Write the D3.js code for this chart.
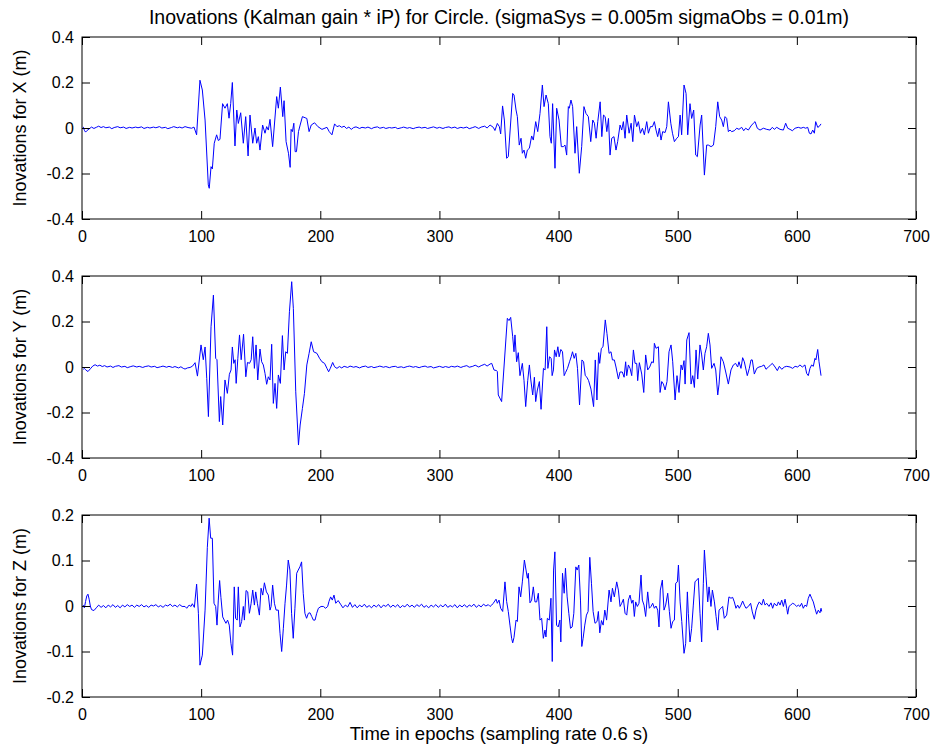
<!DOCTYPE html>
<html lang="en">
<head>
<meta charset="UTF-8">
<script src="https://cdnjs.cloudflare.com/ajax/libs/d3/7.9.0/d3.min.js"></script>
<title>Inovations</title>
<style>
    body { margin: 0; background: #fff; }
    svg { display: block; }
    text { font-family: "Liberation Sans", Arial, Helvetica, sans-serif; fill: #000; }
</style>
</head>
<body>
<div id="chart"></div>
<script>
// [epoch, innovation (m)]
const innovX = [[1,0.005],[2,-0.01],[3,-0.018],[4,-0.012],[6,-0.004],[8,0.004],[10,-0.002],[12,0.003],[14,0.008],[16,0.002],[18,0.006],[20,0.001],[23,0.004],[25,-0.003],[27,0.002],[30,0.006],[32,0.001],[35,0.004],[37,-0.002],[40,0.003],[42,0.0],[45,0.004],[47,0.001],[50,0.005],[52,-0.002],[55,0.003],[57,0.0],[60,0.004],[62,0.001],[65,0.006],[67,0.0],[70,0.003],[72,-0.003],[75,0.002],[77,0.006],[80,0.001],[82,0.004],[84,0.0],
  [86.5,0.006],[89,0.002],[92,-0.001],[94,0.004],[96.2,-0.03],[99,0.21],[101,0.167],[103.3,0.035],[106,-0.25],[106.8,-0.265],[108.3,-0.17],[109.4,-0.18],[111,-0.067],[113,-0.03],[114.4,-0.055],[115.8,-0.05],[118,0.107],[120,0.087],[122,0.107],[123.4,0.043],[124.8,0.107],[126.2,0.2],[128.4,-0.079],[129.9,0.079],[131.2,0.02],[133.2,0.067],[135.4,-0.067],[137.4,0.05],[139.4,-0.123],[141,0.057],[143.3,-0.067],[145.2,0],[146.6,-0.067],[148,-0.038],[149.4,-0.097],[151.6,0.013],[153.6,-0.023],[155,0.006],[156.4,-0.009],[157.8,0.038],[160,-0.082],[163.4,0.138],[164.8,0.087],[166.5,0.18],[168.5,0.05],[169.6,0.12],[171.3,-0.06],[173.3,-0.111],[174.7,-0.173],[175.5,-0.006],[176.6,-0.016],[177.8,0.021],[178.9,-0.104],[180,-0.104],[181.7,-0.016],[183.1,0.013],[185,0.05],[187.3,0.045],[188.7,0.042],[190.6,-0.016],[192.4,0.013],[195.2,0.023],[198,0.006],[201.4,-0.006],[205.6,0.003],[207.5,-0.016],[209.8,-0.03],[212,0.018],
  [214,0.006],[216,0.01],[218,0.003],[220,0.008],[222,-0.002],[224,0.004],[226,-0.006],[228,0.002],[230,0.005],[233,-0.002],[235,0.003],[238,0.0],[240,0.004],[243,-0.003],[245,0.002],[248,0.005],[250,-0.001],[253,0.003],[255,-0.002],[258,0.002],[260,0.0],[263,0.003],[265,-0.003],[268,0.001],[270,0.004],[273,-0.001],[275,0.002],[278,-0.003],[280,0.001],[283,0.004],[285,0.0],[288,0.003],[290,-0.002],[293,0.002],[295,0.005],[298,-0.001],[300,0.003],[303,-0.002],[305,0.002],[308,0.005],[310,0.0],[313,0.004],[315,-0.002],[318,0.003],[320,0.0],[323,0.004],[325,-0.003],[328,0.002],[330,0.006],[333,-0.002],[335,0.004],[338,0.008],[340,0.0],
  [342.5,0.013],[345.2,0.003],[346.6,-0.011],[348.6,0.02],[350.3,0.006],[351.4,-0.026],[353,0.097],[354.5,0.035],[356.4,-0.133],[357.8,-0.126],[361.5,0.152],[362.6,0.145],[364.3,0.079],[365.4,0.05],[367,-0.075],[368.5,-0.045],[369.6,-0.111],[371,-0.097],[372.4,-0.133],[373.8,-0.097],[375.5,-0.089],[377.4,-0.035],[378.8,-0.053],[380.8,0.028],[382.5,-0.016],[384.4,0.064],[386.4,0.189],[387.8,0.094],[389.5,0.145],[391.4,0.107],[392.8,-0.038],[393.9,-0.067],[395,0.107],[397,-0.177],[398.4,0.087],[400.4,0.035],[402.3,-0.082],[404,-0.082],[405.4,-0.075],[406.8,-0.119],[408.2,0.094],[409,0.087],[410.4,0.123],[411.8,0.094],[413.8,-0.111],[415.2,0.006],[417.4,-0.199],[419.4,-0.082],[421.3,0.094],[423,0.064],[425,0.05],[427,-0.06],[428.7,0.035],[430.1,0.021],[431.5,-0.045],[432.9,0.028],[434.9,0.115],[436.3,-0.038],[437.7,0.057],[439.1,0.05],[440.5,-0.016],[441.9,0.042],[443.2,-0.119],
  [444.6,-0.045],[446.5,-0.038],[448.2,-0.097],[449.6,-0.06],[451.6,0.013],[453,-0.009],[454.4,0.028],[455.8,-0.045],[457.2,0.057],[459.2,-0.023],[460.9,0.021],[462.3,-0.06],[463.7,0.057],[465.6,0.006],[467,0.028],[468.7,-0.023],[470.4,-0.001],[472,-0.03],[474,0.028],[475.4,-0.023],[477.1,0.006],[478.8,0.006],[480.4,0.028],[481.8,-0.009],[483.2,-0.038],[484.6,-0.001],[486,-0.053],[487.4,-0.016],[489.4,-0.02],[490.8,0.006],[492.2,0.115],[494.2,0.021],[495.6,-0.023],[497.2,-0.06],[499.2,-0.045],[500.6,-0.038],[502,0.057],[503.3,-0.03],[505.3,0.189],[507,0.152],[508.4,-0.03],[510.3,0.107],[511.7,0.042],[513.4,0.079],[515.1,-0.119],[516.5,-0.126],[518.8,0.013],[520.1,0.057],[522.4,-0.207],[524.3,-0.075],[525.7,-0.075],[528,-0.082],[530,-0.075],[531.9,0.006],[533.6,0.115],[535.2,0.05],
  [536.9,0.035],[538.3,0.006],[539.7,0.05],[541.1,0.042],[542.5,-0.016],[543.9,-0.009],[545.3,-0.016],[547.5,-0.012],[549.5,-0.001],[551.4,-0.006],[553.7,0.003],[555.4,-0.012],[557,-0.001],[559.3,-0.009],[561.5,0.009],[563.5,0.021],[564.9,0.028],[566.8,-0.001],[569.1,-0.009],[571.9,-0.001],[574.7,-0.006],[577.5,-0.009],[579.4,0.003],[581.1,-0.006],[583.1,0.003],[585.9,-0.006],[588.7,-0.009],[590.6,0.021],[592.3,-0.001],[594.3,-0.006],[596.2,-0.012],[598.5,-0.001],[601.2,0.003],[603.5,-0.001],[605.4,0.003],[607.4,-0.001],[609.1,0.003],[610.5,-0.023],[611.9,-0.026],[613.3,-0.009],[614.7,-0.023],[615.8,0.028],[617.5,0.003],[618.6,0.006],[620.3,0.018]];

const innovY = [[1,-0.01],[2,-0.006],[3,-0.012],[5,-0.02],[7,-0.008],[9,0.004],[11,0.01],[13,0.004],[15,0.008],[17,0.002],[19,0.006],[21,0.0],[24,0.004],[26,-0.002],[28,0.003],[31,0.006],[33,0.0],[36,0.003],[38,-0.003],[41,0.002],[43,0.005],[46,0.0],[48,0.003],[51,-0.002],[53,0.002],[56,0.005],[58,0.0],[61,0.003],[63,-0.003],[66,0.001],[68,0.004],[71,-0.001],[73,0.003],[76,-0.002],[78,0.002],[81,-0.004],[83,0.001],[85,-0.006],
  [86.5,-0.009],[88.5,-0.004],[90.7,-0.002],[92.8,0.004],[94.9,0.019],[96.9,-0.04],[99.9,0.097],[101.8,0.032],[103.3,0.088],[104.7,-0.05],[106.1,-0.218],[108.3,0.177],[110.3,0.316],[112.2,0.038],[113.3,0.032],[115.3,-0.24],[116.4,-0.13],[118.1,-0.255],[120,-0.057],[122,-0.116],[123.7,-0.032],[125.1,-0.013],[126.2,0.088],[127.4,0.016],[128.5,0.032],[129.4,-0.072],[130.8,0.038],[132.2,0.141],[133.6,0.032],[135.6,0.144],[137.5,-0.043],[138.9,0.02],[140.6,0.016],[142,0.032],[143.3,0.133],[144.7,-0.006],[146.1,0.097],[147.5,-0.057],[149.4,0.079],[150.8,0.023],[152.2,0.009],[153.6,-0.028],[155,-0.076],[156.4,-0.043],[157.8,-0.057],[159.2,0.1],[160.6,-0.16],[162,-0.072],[163.4,-0.182],[164.8,-0.035],[166.5,-0.072],[168.2,0.138],[169.6,-0.013],[171,0.067],[172.4,0.06],[174.1,0.243],[176,0.375],[177.4,0.258],[179.4,-0.109],[181.7,-0.343],[183.1,-0.255],[185,-0.182],[186.7,-0.116],[188.7,0.009],[190.6,0.06],[192.4,0.111],[194.4,0.067],[197.2,0.06],[199.4,0.038],[201.4,0.023],[203.6,0.016],[205.6,-0.006],[207,-0.021],[208.4,-0.006],[210.4,0.02],[212,0.001],
  [214,-0.006],[216,0.002],[218,-0.004],[220,0.003],[223,-0.002],[225,0.004],[228,-0.001],[230,0.002],[233,-0.004],[235,0.001],[238,0.004],[240,-0.002],[243,0.002],[245,-0.003],[248,0.001],[250,0.004],[253,-0.001],[255,0.002],[258,-0.003],[260,0.001],[263,0.003],[265,-0.002],[268,0.001],[270,-0.003],[273,0.002],[275,0.004],[278,-0.001],[280,0.002],[283,-0.003],[285,0.001],[288,0.004],[290,-0.001],[293,0.002],[295,-0.004],[298,0.0],[300,0.003],[303,-0.002],[305,0.002],[308,-0.002],[310,0.003],[313,0.0],[315,0.004],[318,-0.002],[320,0.002],[323,0.006],[325,-0.001],[328,0.003],[330,0.008],[333,0.0],[335,0.006],[338,0.012],[340,0.004],
  [342.5,0.013],[343.9,0.016],[345.8,-0.013],[348,-0.016],[348.6,-0.02],[349.4,-0.123],[352.2,-0.152],[354.2,0.0],[357,0.214],[358.4,0.204],[359.8,0.218],[361.5,0.133],[362.6,0.067],[363.4,0.141],[364.8,0.023],[366.2,0.063],[367.6,-0.038],[369.6,0.016],[371,-0.06],[372.4,-0.174],[374.1,-0.06],[375.5,0.009],[376.6,-0.053],[378.3,-0.123],[379.7,-0.045],[380.8,-0.152],[382.2,-0.101],[383.9,-0.064],[385.3,-0.186],[387.3,-0.006],[388.7,-0.013],[390.1,0.177],[391,-0.006],[392.4,0.045],[393.8,0.038],[394.6,-0.038],[395.7,-0.013],[396.6,0.075],[398,0.045],[399.4,0.089],[400.5,0.045],[401.9,0.077],[403.3,0.067],[404.7,-0.038],[405.8,-0.025],[407.5,-0.006],[409.2,0.023],[410.6,0.045],[411.7,0.067],[413.1,0.038],[414.5,0.06],[415.9,-0.006],[417.6,-0.167],[419.6,0.031],[421,0.023],[422.4,-0.038],[423.8,-0.045],[425.2,-0.06],[427.2,-0.097],[429.4,-0.174],[430.8,0.031],[432.2,-0.145],[433.6,0.063],[434.5,0.016],[435.9,0.082],[437.3,0.089],[439.2,0.207],[440.6,0.148],
  [442.4,0.06],[444,0.067],[445.2,0.031],[446.8,0.031],[448.2,0.0],[450.2,-0.053],[451.6,-0.022],[453.5,-0.022],[455,-0.045],[456.3,0.023],[457.2,-0.038],[458.6,0.009],[460,-0.006],[461.4,-0.038],[462.8,0.075],[464.2,0.016],[465.6,0.016],[466.4,-0.06],[467.8,0.019],[469.8,-0.031],[471.5,-0.112],[473.1,0.053],[474.8,-0.013],[476.5,0.0],[478.2,0.023],[479.6,0.019],[480.4,0.104],[481.8,0.082],[483.8,0.089],[485.2,-0.112],[486.6,-0.064],[488,-0.075],[489.4,-0.101],[491,-0.064],[492.7,0.067],[494.4,0.097],[495.8,0.023],[497.8,-0.145],[499.4,-0.038],[501.1,-0.112],[502.8,0.009],[503.9,-0.013],[505.3,0.028],[506.2,-0.075],[507.6,0.119],[509.5,0.151],[511.2,-0.075],[512.6,-0.038],[514,-0.09],[515.4,0.075],[516.8,-0.053],[518.7,0.097],[520.1,0.053],[521.5,-0.013],[522.9,0.06],[524.3,0.089],[525.7,0.148],[527.1,0.097],[528.5,-0.006],[530.5,0.016],[531.9,-0.013],[533.6,-0.123],
  [534.7,-0.075],[536.3,0.045],[538.3,0.023],[540.3,-0.022],[542.5,-0.075],[544.7,-0.013],[546.7,0.009],[548.6,0.016],[550.3,0.0],[551.4,0.023],[553.1,-0.006],[554.5,0.041],[555.9,0.023],[558.4,-0.038],[560.1,-0.006],[561.5,0.031],[562.6,0.031],[564.3,-0.031],[566.3,-0.006],[568.2,0.0],[570.5,0.003],[572.4,0.009],[574.1,-0.01],[576.1,0.0],[578,0.009],[579.4,0.016],[581.7,0.0],[583.6,-0.016],[585.3,0.003],[587.3,-0.01],[589.5,0.0],[591.5,0.003],[594.3,0.0],[596.5,-0.006],[598.5,0.003],[600.7,0.0],[602.6,0.009],[604.6,0.0],[606.8,0.009],[608.2,-0.028],[609.6,-0.038],[611,-0.006],[612.4,0.009],[613.8,0.003],[615.2,0.038],[616,0.031],[617.5,0.077],[618.6,0.023],[620.3,-0.038]];

const innovZ = [[1,0.002],[2,-0.004],[3,0.01],[4,0.022],[5,0.026],[6,0.015],[7,0.0],[8,-0.008],[10,-0.01],[12,-0.004],[14,0.002],[16,-0.003],[18,0.001],[20,-0.004],[22,0.002],[24,-0.002],[26,0.003],[28,-0.003],[30,0.001],[32,-0.004],[34,0.002],[36,-0.002],[38,0.003],[40,-0.001],[42,0.002],[44,-0.003],[46,0.002],[48,-0.001],[50,0.003],[52,-0.002],[54,0.001],[56,-0.003],[58,0.002],[60,0.0],[62,0.003],[64,-0.002],[66,0.001],[68,-0.003],[70,0.002],[72,0.0],[74,0.004],[76,-0.001],[78,0.002],[80,-0.002],[82,0.003],[84,-0.001],
  [86.5,-0.001],[87.9,-0.005],[89.9,0.002],[91.5,-0.001],[92.6,0.005],[94.3,-0.003],[96.2,0.048],[97.7,-0.016],[99,-0.13],[101,-0.108],[103.3,-0.009],[105.2,0.129],[106.7,0.193],[108,0.149],[109.4,0.149],[110.8,0.006],[112.2,-0.001],[113.3,-0.042],[114.4,0.013],[115.5,0.056],[116.6,0.019],[118.1,-0.024],[119.4,-0.031],[120.8,-0.038],[122.2,-0.031],[123.6,-0.042],[125,-0.082],[126.4,-0.108],[127.8,0.042],[128.9,-0.027],[130.3,-0.031],[131.2,0.042],[132.6,-0.046],[134,-0.034],[135.4,-0.001],[136.3,-0.031],[137.7,0.034],[139.1,0.031],[140.5,-0.016],[141.9,0.005],[143.3,0.035],[144.7,0.002],[145.8,0.031],[147.2,0.006],[148.9,-0.02],[150.3,0.039],[151.7,0.024],[153.1,0.051],[154.8,0.031],[156.4,0.024],[157.8,-0.009],[158.7,-0.001],[160,0.046],[161.5,0.006],[162.9,-0.009],[164.8,-0.009],[166.2,-0.06],[167.6,-0.1],[169,-0.049],[170.4,0.006],[171.7,0.046],[173.1,0.101],[174.5,0.079],[175.9,-0.016],[177.3,-0.071],[178.7,-0.005],[180.2,0.072],[181.5,0.079],[182.9,0.086],[184.3,0.097],[185.7,0.028],[187.1,-0.016],[188.5,-0.027],[190,-0.016],[191.4,-0.015],[192.8,-0.023],[194.2,-0.031],[195.6,-0.031],[197,-0.016],[198.4,-0.005],[200.6,-0.001],[202.6,-0.001],[204.5,-0.005],[206.2,-0.001],[207.3,0.01],[208.7,0.02],[210.1,0.013],[211.5,0.024],
  [213,0.006],[215,0.012],[217,0.004],[219,-0.004],[221,0.002],[223,-0.002],[225,0.008],[227,-0.003],[229,0.003],[231,-0.004],[233,0.002],[235,-0.002],[237,0.004],[239,-0.003],[241,0.001],[243,-0.004],[245,0.002],[247,-0.002],[249,0.003],[251,-0.004],[253,0.002],[255,-0.001],[257,0.004],[259,-0.003],[261,0.002],[263,-0.002],[265,0.003],[267,-0.004],[269,0.001],[271,-0.002],[273,0.004],[275,-0.002],[277,0.002],[279,-0.003],[281,0.003],[283,-0.001],[285,0.004],[287,-0.003],[289,0.001],[291,-0.004],[293,0.002],[295,-0.002],[297,0.003],[299,-0.003],[301,0.002],[303,-0.002],[305,0.004],[307,-0.003],[309,0.001],[311,-0.002],[313,0.003],[315,-0.004],[317,0.002],[319,-0.002],[321,0.003],[323,-0.003],[325,0.002],[327,-0.001],[329,0.004],[331,-0.003],[333,0.002],[335,-0.002],[337,0.004],[339,0.0],[341,0.003],
  [342.5,-0.001],[343.9,0.002],[345.2,0.006],[347.5,0.015],[348.6,0.006],[350,0.013],[351.4,-0.005],[353.1,-0.012],[355,0.053],[356.4,0.01],[357.8,-0.012],[359.2,-0.042],[360.6,-0.071],[361.5,-0.081],[362.6,-0.069],[364.3,-0.031],[365.4,-0.034],[366.8,0.042],[368.2,0.02],[369.6,0.053],[371.3,0.101],[372.7,0.079],[373.8,0.061],[374.6,0.072],[376,0.007],[377.4,0.013],[378.8,0.042],[380.2,0.009],[381.6,0.009],[383,0.028],[384.4,-0.031],[385.8,-0.027],[387.2,-0.071],[388.6,-0.053],[389.4,-0.068],[390.6,-0.027],[392.2,-0.031],[393.6,0.017],[394.7,-0.122],[395.8,0.079],[396.9,0.119],[398.3,-0.042],[399.7,-0.046],[401.1,-0.031],[401.9,-0.079],[403.3,0.072],[404.7,0.028],[405.8,0.083],[407.2,0.02],[408.6,-0.016],[410,-0.049],[411.4,-0.046],[412.8,-0.016],[414.5,0.086],[415.6,0.079],[417,0.09],[418.4,0.013],[419.5,-0.089],[420.6,-0.071],[422,-0.042],[423.4,-0.02],[424.8,-0.012],[426.2,0.107],[427.6,0.05],[429,-0.012],[430.6,-0.038],[432.3,-0.034],[433.4,-0.012],[434.6,-0.059],[436,-0.032],[437.4,-0.042],[438.8,-0.009],[440.3,-0.031],[442.4,0.035],
  [444,0.009],[445.2,0.039],[446.8,0.02],[448.8,0.053],[450.2,0.035],[451.6,-0.001],[453,0.006],[454.4,0.015],[455.8,-0.016],[457.2,-0.02],[458.6,0.013],[460,0.024],[461.4,0.006],[462.5,0.013],[463.6,-0.023],[464.7,0.009],[466.1,-0.001],[467.5,0.006],[469.2,0.068],[470.3,0.013],[471.7,0.002],[473.1,-0.023],[474.8,0.031],[476.2,-0.005],[477.6,-0.001],[479,0.006],[480.4,-0.005],[481.8,0.0],[483.2,-0.009],[484.3,-0.046],[485.4,0.035],[487.1,0.057],[488.5,-0.009],[489.9,0.002],[491.6,0.028],[493,-0.012],[494.4,-0.049],[495.8,-0.034],[497.2,-0.031],[498.3,0.05],[499.7,0.053],[500.6,0.09],[502,0.009],[503.4,-0.034],[505.3,-0.104],[506.7,-0.082],[508.1,0.031],[508.9,-0.016],[510.3,-0.079],[511.7,-0.049],[513.1,0.002],[514.5,0.053],[515.9,0.057],[517.3,0.061],[518.7,-0.016],[520.1,-0.079],[521.5,0.05],[522.4,0.123],[523.8,0.064],[525.2,0.009],[526.3,0.042],[527.9,-0.001],[529.1,0.035],[530.8,0.009],[532.2,-0.023],[533.6,-0.053],
  [534.7,-0.009],[536.3,-0.005],[537.7,-0.001],[539.1,-0.027],[541.1,-0.02],[543,0.02],[544.7,0.017],[546.1,0.019],[547.5,0.009],[548.9,-0.005],[550.3,0.002],[551.7,-0.005],[553.1,0.002],[554.5,0.011],[555.9,0.002],[557.3,-0.005],[559.3,-0.001],[561.2,0.006],[562.6,-0.013],[564.3,-0.029],[565.7,-0.009],[567.1,0.002],[568.5,0.009],[570.5,0.002],[571.9,0.015],[573.3,0.002],[574.7,0.006],[576.6,-0.001],[578.3,0.007],[579.7,-0.005],[581.1,0.006],[583.1,0.0],[584.5,0.009],[585.9,0.002],[587.3,0.013],[588.7,-0.001],[590.1,0.015],[591.5,-0.005],[592.3,-0.018],[593.4,-0.001],[594.8,0.002],[596.5,0.006],[597.9,0.004],[599.9,-0.001],[601.2,0.002],[602.6,-0.001],[604,0.006],[605.4,-0.005],[606.8,0.002],[608.2,-0.001],[609.6,0.017],[611,0.026],[612.4,0.017],[613.8,0.009],[615.2,-0.005],[616.6,-0.018],[618,-0.009],[619.4,-0.015],[620.3,-0.005],[620.8,-0.012]];

const xTicks = [0, 100, 200, 300, 400, 500, 600, 700];
const yTicksXY = [-0.4, -0.2, 0, 0.2, 0.4];
const yTicksZ = [-0.2, -0.1, 0, 0.1, 0.2];
const yLabels = ["Inovations for X (m)", "Inovations for Y (m)", "Inovations for Z (m)"];
const title = "Inovations (Kalman gain * iP) for Circle. (sigmaSys = 0.005m sigmaObs = 0.01m)";
const xLabel = "Time in epochs (sampling rate 0.6 s)";

const width = 934, height = 749;
const left = 82, right = 916;
const tops = [37, 276, 515];
const plotH = 182;
const tickLen = 8;

const svg = d3.select("#chart").append("svg")
    .attr("width", width)
    .attr("height", height);

const x = d3.scaleLinear().domain([0, 700]).range([left, right]);

const panels = [
    { data: innovX, dom: [-0.4, 0.4], ticks: yTicksXY, label: yLabels[0] },
    { data: innovY, dom: [-0.4, 0.4], ticks: yTicksXY, label: yLabels[1] },
    { data: innovZ, dom: [-0.2, 0.2], ticks: yTicksZ, label: yLabels[2] }
];

const fmt = d => String(d);

panels.forEach((p, i) => {
    const top = tops[i], bottom = top + plotH;
    const y = d3.scaleLinear().domain(p.dom).range([bottom, top]);

    const g = svg.append("g");

    // data line
    const line = d3.line().x(d => x(d[0])).y(d => y(d[1]));
    g.append("path")
        .datum(p.data)
        .attr("fill", "none")
        .attr("stroke", "#0000ff")
        .attr("stroke-width", 1)
        .attr("stroke-linejoin", "round")
        .attr("d", line);

    // axes (MATLAB style: ticks inward, box on)
    g.append("g")
        .attr("transform", `translate(0,${bottom})`)
        .call(d3.axisBottom(x).tickValues(xTicks).tickFormat(fmt).tickSizeInner(-tickLen).tickSizeOuter(0).tickPadding(12))
        .call(a => a.select(".domain").remove())
        .call(a => a.selectAll("text").attr("font-size", 16).attr("font-family", "Liberation Sans, Arial, sans-serif"));
    g.append("g")
        .attr("transform", `translate(0,${top})`)
        .call(d3.axisTop(x).tickValues(xTicks).tickFormat("").tickSizeInner(-tickLen).tickSizeOuter(0))
        .call(a => a.select(".domain").remove());
    g.append("g")
        .attr("transform", `translate(${left},0)`)
        .call(d3.axisLeft(y).tickValues(p.ticks).tickFormat(fmt).tickSizeInner(-tickLen).tickSizeOuter(0).tickPadding(8))
        .call(a => a.select(".domain").remove())
        .call(a => a.selectAll("text").attr("font-size", 16).attr("font-family", "Liberation Sans, Arial, sans-serif"));
    g.append("g")
        .attr("transform", `translate(${right},0)`)
        .call(d3.axisRight(y).tickValues(p.ticks).tickFormat("").tickSizeInner(-tickLen).tickSizeOuter(0))
        .call(a => a.select(".domain").remove());

    g.append("rect")
        .attr("x", left).attr("y", top)
        .attr("width", right - left).attr("height", plotH)
        .attr("fill", "none").attr("stroke", "#000").attr("stroke-width", 1);

    g.append("text")
        .attr("transform", `translate(26,${top + plotH / 2}) rotate(-90)`)
        .attr("text-anchor", "middle")
        .attr("font-size", 18)
        .text(p.label);
});

svg.append("text")
    .attr("x", (left + right) / 2).attr("y", 24)
    .attr("text-anchor", "middle")
    .attr("font-size", 19.5)
    .text(title);

svg.append("text")
    .attr("x", (left + right) / 2).attr("y", 740)
    .attr("text-anchor", "middle")
    .attr("font-size", 18.5)
    .text(xLabel);
</script>
</body>
</html>
